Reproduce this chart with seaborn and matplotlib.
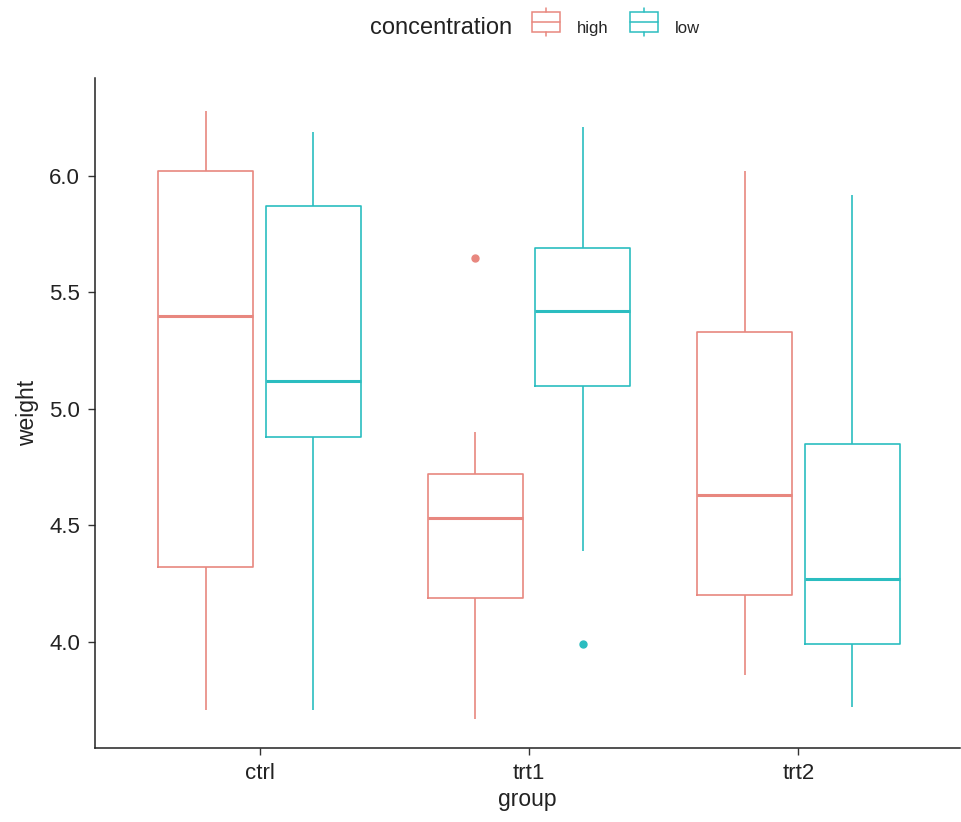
import pandas as pd
import matplotlib
matplotlib.use('Agg')
import matplotlib.pyplot as plt
import seaborn as sns
from matplotlib.patches import Rectangle
from matplotlib.lines import Line2D
from matplotlib.legend_handler import HandlerBase

ctrl_high = [3.71, 4.32, 5.40, 6.02, 6.28]
ctrl_low = [3.71, 4.88, 5.12, 5.87, 6.19]
trt1_high = [3.67, 3.95, 4.19, 4.40, 4.53, 4.65, 4.72, 4.90, 5.65]
trt1_low = [3.99, 4.39, 5.10, 5.25, 5.42, 5.55, 5.69, 5.90, 6.21]
trt2_high = [3.86, 4.20, 4.63, 5.33, 6.02]
trt2_low = [3.72, 3.99, 4.27, 4.85, 5.92]

groups = ['ctrl', 'trt1', 'trt2']
levels = ['high', 'low']
colors = ['#E8877F', '#2BBDC0']

series = {
    ('ctrl', 'high'): ctrl_high, ('ctrl', 'low'): ctrl_low,
    ('trt1', 'high'): trt1_high, ('trt1', 'low'): trt1_low,
    ('trt2', 'high'): trt2_high, ('trt2', 'low'): trt2_low,
}
rows = []
for (g, c), vals in series.items():
    for v in vals:
        rows.append({'group': g, 'concentration': c, 'weight': v})
df = pd.DataFrame(rows)


# little boxplot glyph for the legend keys
class BoxKey:
    def __init__(self, color):
        self.color = color


class BoxKeyHandler(HandlerBase):
    def create_artists(self, legend, orig, xd, yd, w, h, fontsize, trans):
        c = orig.color
        y0 = yd - h * 0.28  # nudge down so it sits level with the text
        top = y0 + h * 0.92
        bot = y0 + h * 0.08
        rect = Rectangle((xd, bot), w, top - bot, facecolor='white', edgecolor=c,
                         linewidth=1.1, transform=trans)
        mid = Line2D([xd, xd + w], [y0 + h / 2, y0 + h / 2], color=c, lw=1.1, transform=trans)
        up = Line2D([xd + w / 2, xd + w / 2], [top, y0 + h * 1.1], color=c, lw=1.1, transform=trans)
        dn = Line2D([xd + w / 2, xd + w / 2], [bot, y0 - h * 0.1], color=c, lw=1.1, transform=trans)
        return [rect, mid, up, dn]


sns.set_style('ticks')
plt.rcParams['font.family'] = ['Liberation Sans', 'DejaVu Sans']

fig = plt.figure(figsize=(9.62, 8.22), dpi=100)
ax = fig.add_axes([0.099, 0.090, 0.899, 0.815])

sns.boxplot(data=df, x='group', y='weight', hue='concentration',
            order=groups, hue_order=levels, palette=colors,
            fill=False, width=0.8, gap=0.12, linewidth=1.2, showcaps=False,
            medianprops=dict(linewidth=2.2),
            flierprops=dict(marker='o', markersize=5),
            legend=False, ax=ax)

for ln in ax.lines:
    if ln.get_marker() == 'o':
        ln.set_markerfacecolor(ln.get_markeredgecolor())

ax.set_xlim(-0.61, 2.6)
ax.set_ylim(3.545, 6.42)
ax.set_yticks([4.0, 4.5, 5.0, 5.5, 6.0])
ax.set_yticklabels(['4.0', '4.5', '5.0', '5.5', '6.0'])
ax.tick_params(axis='both', labelsize=16, length=5, width=1, pad=6,
               color='#333333', labelcolor='#222222')
ax.set_xlabel('group', fontsize=16.5, color='#222222', labelpad=3)
ax.set_ylabel('weight', fontsize=16.5, color='#222222', labelpad=7)
for s in ['left', 'bottom']:
    ax.spines[s].set_linewidth(1.1)
    ax.spines[s].set_color('#222222')
sns.despine(ax=ax)

keys = [BoxKey(c) for c in colors]
fig.text(0.532, 0.966, 'concentration', fontsize=17, color='#222222', ha='right', va='center')
fig.legend(keys, levels, handler_map={BoxKey: BoxKeyHandler()},
           loc='center left', bbox_to_anchor=(0.553, 0.966), ncol=2,
           frameon=False, fontsize=12, handlelength=1.68, handleheight=1.75,
           handletextpad=1.0, columnspacing=1.3, borderaxespad=0, borderpad=0)

fig.savefig('out.png', dpi=100)
